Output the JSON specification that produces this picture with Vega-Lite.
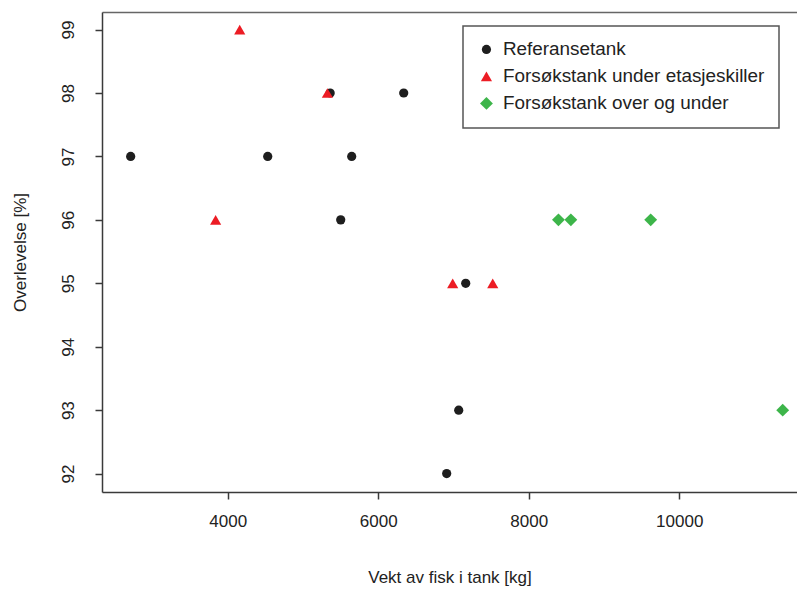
{
  "$schema": "https://vega.github.io/schema/vega-lite/v6.json",
  "autosize": {"type": "none"},
  "width": 695,
  "height": 480,
  "padding": {"left": 102, "top": 12, "right": 0, "bottom": 100},
  "background": "white",
  "config": {
    "view": {"stroke": null},
    "font": "Liberation Sans",
    "axis": {
      "domainColor": "#3a3a3a",
      "domainWidth": 1.5,
      "tickColor": "#3a3a3a",
      "tickWidth": 1.5,
      "tickSize": 7,
      "labelFontSize": 17,
      "labelColor": "#222",
      "titleFontSize": 17,
      "titleFontWeight": "normal",
      "titleColor": "#222",
      "grid": false
    },
    "legend": {
      "labelFontSize": 18.9,
      "labelColor": "#222",
      "labelLimit": 0,
      "padding": 14,
      "strokeColor": "#555",
      "strokeWidth": 1.5,
      "fillColor": "white",
      "rowPadding": 7,
      "labelOffset": 7,
      "symbolSize": 65,
      "cornerRadius": 0
    }
  },
  "data": {
    "values": [
      {"vekt": 2711, "overlevelse": 97, "tank": "Referansetank"},
      {"vekt": 4532, "overlevelse": 97, "tank": "Referansetank"},
      {"vekt": 5362, "overlevelse": 98, "tank": "Referansetank"},
      {"vekt": 5502, "overlevelse": 96, "tank": "Referansetank"},
      {"vekt": 5648, "overlevelse": 97, "tank": "Referansetank"},
      {"vekt": 6339, "overlevelse": 98, "tank": "Referansetank"},
      {"vekt": 7163, "overlevelse": 95, "tank": "Referansetank"},
      {"vekt": 7070, "overlevelse": 93, "tank": "Referansetank"},
      {"vekt": 6910, "overlevelse": 92, "tank": "Referansetank"},
      {"vekt": 4160, "overlevelse": 99, "tank": "Forsøkstank under etasjeskiller"},
      {"vekt": 3840, "overlevelse": 96, "tank": "Forsøkstank under etasjeskiller"},
      {"vekt": 5325, "overlevelse": 98, "tank": "Forsøkstank under etasjeskiller"},
      {"vekt": 6990, "overlevelse": 95, "tank": "Forsøkstank under etasjeskiller"},
      {"vekt": 7522, "overlevelse": 95, "tank": "Forsøkstank under etasjeskiller"},
      {"vekt": 8395, "overlevelse": 96, "tank": "Forsøkstank over og under"},
      {"vekt": 8560, "overlevelse": 96, "tank": "Forsøkstank over og under"},
      {"vekt": 9621, "overlevelse": 96, "tank": "Forsøkstank over og under"},
      {"vekt": 11375, "overlevelse": 93, "tank": "Forsøkstank over og under"}
    ]
  },
  "layer": [
    {
      "mark": {"type": "point", "filled": true, "opacity": 1, "strokeWidth": 0},
      "encoding": {
        "x": {
          "field": "vekt", "type": "quantitative",
          "scale": {"domain": [2330, 11565], "nice": false, "zero": false},
          "axis": {"orient": "bottom", "title": "Vekt av fisk i tank [kg]", "values": [4000, 6000, 8000, 10000], "format": "d", "labelPadding": 14, "titlePadding": 40}
        },
        "y": {
          "field": "overlevelse", "type": "quantitative",
          "scale": {"domain": [91.71, 99.277], "nice": false, "zero": false},
          "axis": {"orient": "left", "title": "Overlevelse [%]", "values": [92, 93, 94, 95, 96, 97, 98, 99], "format": "d", "labelAngle": -90, "labelAlign": "center", "labelBaseline": "bottom", "labelPadding": 18, "titlePadding": 30}
        },
        "color": {
          "field": "tank", "type": "nominal",
          "scale": {"domain": ["Referansetank", "Forsøkstank under etasjeskiller", "Forsøkstank over og under"], "range": ["#1e1e1e", "#ec1c24", "#3db54a"]},
          "legend": {"title": null, "orient": "none", "legendX": 361, "legendY": 14}
        },
        "shape": {
          "field": "tank", "type": "nominal",
          "scale": {"domain": ["Referansetank", "Forsøkstank under etasjeskiller", "Forsøkstank over og under"], "range": ["circle", "triangle-up", "diamond"]},
          "legend": {"title": null, "orient": "none", "legendX": 361, "legendY": 14}
        },
        "size": {
          "field": "tank", "type": "nominal",
          "scale": {"domain": ["Referansetank", "Forsøkstank under etasjeskiller", "Forsøkstank over og under"], "range": [85, 165, 55]},
          "legend": {"title": null, "orient": "none", "legendX": 361, "legendY": 14}
        }
      }
    },
    {
      "mark": {"type": "point", "opacity": 0},
      "encoding": {
        "x": {
          "field": "vekt", "type": "quantitative",
          "axis": {"orient": "top", "title": null, "labels": false, "ticks": false, "domainColor": "#666"}
        },
        "y": {"field": "overlevelse", "type": "quantitative"}
      }
    }
  ],
  "resolve": {"axis": {"x": "independent"}}
}
